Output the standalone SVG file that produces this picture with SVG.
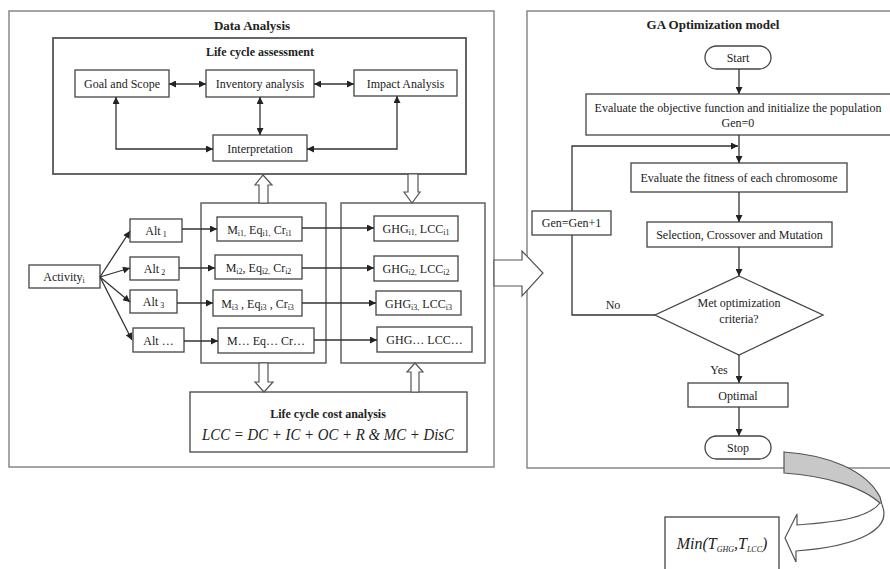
<svg xmlns="http://www.w3.org/2000/svg" width="890" height="569" viewBox="0 0 890 569">
<style>
text{font-family:"Liberation Serif","Times New Roman",serif;fill:#222;font-size:12px}
.c{text-anchor:middle}
.b{font-weight:bold}
.t13{font-size:13px}
.sub{font-size:8px}
.box{fill:#fff;stroke:#444;stroke-width:1.3}
.panel{fill:none;stroke:#888;stroke-width:1.5}
.ln{fill:none;stroke:#333;stroke-width:1.3}
.hollow{fill:#fff;stroke:#555;stroke-width:1.2}
.it{font-style:italic}
</style>
<defs>
<marker id="ah" viewBox="0 0 10 10" refX="10" refY="5" markerWidth="8" markerHeight="7" markerUnits="userSpaceOnUse" orient="auto-start-reverse">
<path d="M0,0 L10,5 L0,10 Z" fill="#222"/>
</marker>
</defs>
<rect width="890" height="569" fill="#fff"/>

<g id="panel-data-analysis">
<rect class="panel" x="9" y="11" width="485" height="456"/>
<text class="c b t13" x="252" y="30">Data Analysis</text>
</g>
<g id="panel-ga">
<path class="panel" d="M892,11 H527 V468 H892"/>
<text class="c b t13" x="713" y="29">GA Optimization model</text>
</g>

<g id="lca">
<rect x="53" y="38" width="413" height="136" fill="none" stroke="#555" stroke-width="1.8"/>
<text class="c b" x="260" y="56">Life cycle assessment</text>
</g>
<g id="goal"><rect class="box" x="75" y="70" width="94" height="27"/><text class="c" x="122" y="88">Goal and Scope</text></g>
<g id="inventory"><rect class="box" x="206" y="70" width="108" height="27"/><text class="c" x="260" y="88">Inventory analysis</text></g>
<g id="impact"><rect class="box" x="354" y="70" width="103" height="26"/><text class="c" x="405.5" y="88">Impact Analysis</text></g>
<g id="interpretation"><rect class="box" x="213" y="135" width="94" height="26"/><text class="c" x="260" y="153">Interpretation</text></g>

<g id="activity"><rect class="box" x="29" y="265" width="71" height="23"/><text class="c" x="64" y="281">Activity<tspan class="sub" dy="2">i</tspan></text></g>
<g id="alt1"><rect class="box" x="130" y="219" width="52" height="23"/><text class="c" x="156" y="235">Alt<tspan class="sub" dy="2"> 1</tspan></text></g>
<g id="alt2"><rect class="box" x="130" y="257" width="49" height="23"/><text class="c" x="154.5" y="273">Alt<tspan class="sub" dy="2"> 2</tspan></text></g>
<g id="alt3"><rect class="box" x="130" y="290" width="47" height="23"/><text class="c" x="153.5" y="306">Alt<tspan class="sub" dy="2"> 3</tspan></text></g>
<g id="altn"><rect class="box" x="133" y="328" width="51" height="24"/><text class="c" x="158.5" y="345">Alt …</text></g>

<g id="m-container"><rect x="201" y="203" width="125" height="160" fill="none" stroke="#555" stroke-width="1.4"/></g>
<g id="ghg-container"><rect x="341" y="203" width="144" height="160" fill="none" stroke="#555" stroke-width="1.4"/></g>

<g id="m1"><rect class="box" x="217" y="217" width="85" height="24"/><text class="c" x="259.5" y="234">M<tspan class="sub" dy="2">i1,</tspan><tspan dy="-2"> Eq</tspan><tspan class="sub" dy="2">i1,</tspan><tspan dy="-2"> Cr</tspan><tspan class="sub" dy="2">i1</tspan></text></g>
<g id="m2"><rect class="box" x="215" y="255" width="87" height="24"/><text class="c" x="258.5" y="272">M<tspan class="sub" dy="2">i2</tspan><tspan dy="-2">, Eq</tspan><tspan class="sub" dy="2">i2,</tspan><tspan dy="-2"> Cr</tspan><tspan class="sub" dy="2">i2</tspan></text></g>
<g id="m3"><rect class="box" x="213" y="290" width="89" height="26"/><text class="c" x="257.5" y="308">M<tspan class="sub" dy="2">i3</tspan><tspan dy="-2"> , Eq</tspan><tspan class="sub" dy="2">i3</tspan><tspan dy="-2"> , Cr</tspan><tspan class="sub" dy="2">i3</tspan></text></g>
<g id="mn"><rect class="box" x="218" y="328" width="96" height="25"/><text class="c" x="266" y="345">M… Eq… Cr…</text></g>

<g id="ghg1"><rect class="box" x="374" y="216" width="84" height="25"/><text class="c" x="416" y="233">GHG<tspan class="sub" dy="2">i1,</tspan><tspan dy="-2"> LCC</tspan><tspan class="sub" dy="2">i1</tspan></text></g>
<g id="ghg2"><rect class="box" x="374" y="256" width="84" height="25"/><text class="c" x="416" y="273">GHG<tspan class="sub" dy="2">i2,</tspan><tspan dy="-2"> LCC</tspan><tspan class="sub" dy="2">i2</tspan></text></g>
<g id="ghg3"><rect class="box" x="376" y="291" width="85" height="24"/><text class="c" x="418.5" y="308">GHG<tspan class="sub" dy="2">i3,</tspan><tspan dy="-2"> LCC</tspan><tspan class="sub" dy="2">i3</tspan></text></g>
<g id="ghgn"><rect class="box" x="377" y="327" width="95" height="25"/><text class="c" x="424.5" y="344">GHG… LCC…</text></g>

<g id="lcc">
<rect class="box" x="190" y="392" width="277" height="60"/>
<text class="c b" x="328" y="418">Life cycle cost analysis</text>
<text class="c it" x="328" y="440" style="font-size:17px" textLength="252" lengthAdjust="spacingAndGlyphs">LCC = DC + IC + OC + R &amp; MC + DisC</text>
</g>

<g id="start"><rect class="box" x="705" y="46" width="66" height="23" rx="11.5"/><text class="c" x="738" y="62">Start</text></g>
<g id="init"><rect class="box" x="586" y="94" width="320" height="41"/><text class="c" x="738" y="112">Evaluate the objective function and initialize the population</text><text class="c" x="738" y="127">Gen=0</text></g>
<g id="fitness"><rect class="box" x="631" y="163" width="216" height="29"/><text class="c" x="739" y="182">Evaluate the fitness of each chromosome</text></g>
<g id="selection"><rect class="box" x="647" y="222" width="185" height="25"/><text class="c" x="739.5" y="239">Selection, Crossover and Mutation</text></g>
<g id="criteria"><path class="box" d="M739,276 L823,315 L739,355 L655,315 Z"/><text class="c" x="739" y="307">Met optimization</text><text class="c" x="739" y="323">criteria?</text></g>
<g id="optimal"><rect class="box" x="688" y="383" width="100" height="24"/><text class="c" x="738" y="400">Optimal</text></g>
<g id="stop"><rect class="box" x="705" y="436" width="66" height="23" rx="11.5"/><text class="c" x="738" y="452">Stop</text></g>

<g id="connectors">
<line class="ln" x1="169" y1="84" x2="206" y2="84" marker-start="url(#ah)" marker-end="url(#ah)"/>
<line class="ln" x1="314" y1="84" x2="354" y2="84" marker-start="url(#ah)" marker-end="url(#ah)"/>
<line class="ln" x1="260" y1="97" x2="260" y2="135" marker-start="url(#ah)" marker-end="url(#ah)"/>
<path class="ln" d="M116,97 V149 H213" marker-start="url(#ah)" marker-end="url(#ah)"/>
<path class="ln" d="M397,96 V149 H307" marker-start="url(#ah)" marker-end="url(#ah)"/>

<line class="ln" x1="100" y1="277" x2="130" y2="231" marker-end="url(#ah)"/>
<line class="ln" x1="100" y1="277" x2="130" y2="268" marker-end="url(#ah)"/>
<line class="ln" x1="100" y1="277" x2="130" y2="302" marker-end="url(#ah)"/>
<line class="ln" x1="100" y1="277" x2="132" y2="340" marker-end="url(#ah)"/>

<line class="ln" x1="182" y1="229" x2="217" y2="229" marker-end="url(#ah)"/>
<line class="ln" x1="179" y1="268" x2="215" y2="268" marker-end="url(#ah)"/>
<line class="ln" x1="177" y1="303" x2="213" y2="303" marker-end="url(#ah)"/>
<line class="ln" x1="184" y1="341" x2="218" y2="341" marker-end="url(#ah)"/>

<line class="ln" x1="302" y1="228" x2="374" y2="228" marker-end="url(#ah)"/>
<line class="ln" x1="302" y1="268" x2="374" y2="268" marker-end="url(#ah)"/>
<line class="ln" x1="302" y1="303" x2="376" y2="303" marker-end="url(#ah)"/>
<line class="ln" x1="314" y1="340" x2="377" y2="340" marker-end="url(#ah)"/>

<path class="hollow" d="M263,175 L272,185 L268,185 L268,203 L259,203 L259,185 L255,185 Z"/>
<path class="hollow" d="M408,174 L418,174 L418,192 L420,192 L412,203 L404,192 L408,192 Z"/>
<path class="hollow" d="M259,363 L268,363 L268,382 L273,382 L264,392 L255,382 L259,382 Z"/>
<path class="hollow" d="M415,363 L423,372 L419,372 L419,392 L411,392 L411,372 L407,372 Z"/>
<path class="hollow" d="M494,260 L522,260 L522,251 L543,273 L522,296 L522,286 L494,286 Z"/>

<line class="ln" x1="739" y1="69" x2="739" y2="94" marker-end="url(#ah)"/>
<line class="ln" x1="739" y1="135" x2="739" y2="163" marker-end="url(#ah)"/>
<path class="ln" d="M655,315 H572 V146 H738" marker-end="url(#ah)"/>
<line class="ln" x1="739" y1="192" x2="739" y2="222" marker-end="url(#ah)"/>
<line class="ln" x1="739" y1="247" x2="739" y2="276" marker-end="url(#ah)"/>
<line class="ln" x1="739" y1="355" x2="739" y2="383" marker-end="url(#ah)"/>
<line class="ln" x1="739" y1="407" x2="739" y2="436" marker-end="url(#ah)"/>
<text class="c" x="613" y="309">No</text>
<text class="c" x="719" y="374">Yes</text>

<path d="M784,452 C828,455 866,470 880,497 L882,505 C864,487 826,476 784,473 Z" fill="#c8c8c8" stroke="#555" stroke-width="1.2"/>
<path d="M882,505 C892,528 862,546 796,551 L796,562 L785,538 L797,514 L797,525 C838,522 868,518 880,503" fill="#fff" stroke="#555" stroke-width="1.2"/>
</g>

<g id="gen-inc"><rect class="box" x="532" y="211" width="79" height="24"/><text class="c" x="571.5" y="227">Gen=Gen+1</text></g>

<g id="min">
<rect class="box" x="665" y="517" width="114" height="60"/>
<text class="c it" x="722" y="549" style="font-size:16px">Min(T<tspan class="sub" dy="3">GHG</tspan><tspan dy="-3">,T</tspan><tspan class="sub" dy="3">LCC</tspan><tspan dy="-3">)</tspan></text>
</g>
</svg>
